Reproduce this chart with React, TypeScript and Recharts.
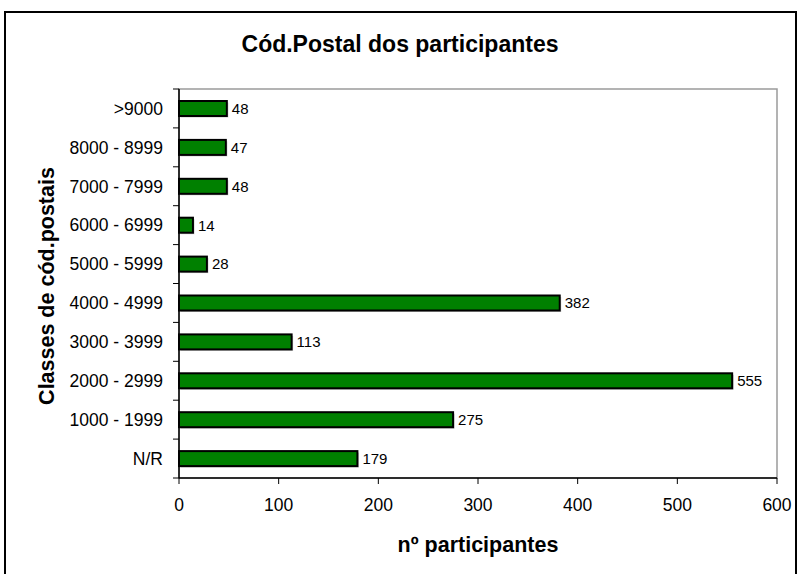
import React from 'react';
import {
  BarChart, Bar, XAxis, YAxis, LabelList, Label, ReferenceArea,
} from 'recharts';

// top-to-bottom order as in the picture
const categories = ['>9000', '8000 - 8999', '7000 - 7999', '6000 - 6999', '5000 - 5999',
  '4000 - 4999', '3000 - 3999', '2000 - 2999', '1000 - 1999', 'N/R'];
const participantes = [48, 47, 48, 14, 28, 382, 113, 555, 275, 179];
const xTicks = [0, 100, 200, 300, 400, 500, 600];

const data = categories.map((cat, i) => ({ cat, value: participantes[i] }));

const FONT = '"Liberation Sans", Arial, sans-serif';
const W = 800;
const H = 574;
const MARGIN = { top: 89, right: 23, bottom: 0, left: 0 };
const X_AXIS_H = 96;
const Y_AXIS_W = 179;
const BAND = (H - MARGIN.top - MARGIN.bottom - X_AXIS_H) / categories.length;

/** category label + tick lines on the band boundaries (Excel style) */
function CatTick(props: any) {
  const { x, y, payload, index } = props;
  return (
    <g>
      <text x={x - 16} y={y} dy="0.36em" textAnchor="end" fontSize={17.5} fontFamily={FONT} fill="#000">
        {payload.value}
      </text>
      <line x1={x - 6} x2={x} y1={y - BAND / 2} y2={y - BAND / 2} stroke="#000" />
      {index === categories.length - 1 && (
        <line x1={x - 6} x2={x} y1={y + BAND / 2} y2={y + BAND / 2} stroke="#000" />
      )}
    </g>
  );
}

/** bar with a faint grey drop shadow */
function ShadowBar(props: any) {
  const { x, y, width, height } = props;
  if (!width || width <= 0) return null;
  return (
    <g>
      <rect x={x + 1.5} y={y + 1.5} width={width} height={height} fill="#c8c8c8" />
      <rect x={x} y={y} width={width} height={height} fill="#008000" stroke="#000" strokeWidth={2} />
    </g>
  );
}

export default function App() {
  return (
    <div style={{ position: 'relative', width: W, height: H, overflow: 'hidden', background: '#fff', fontFamily: FONT }}>
      <style>{'body{margin:0}'}</style>
      <div style={{
        position: 'absolute', left: 4, top: 11, width: 793, height: 620,
        border: '2px solid #000', boxSizing: 'border-box',
      }} />
      <div style={{
        position: 'absolute', left: 0, width: W, top: 33, textAlign: 'center', lineHeight: '23px',
        fontWeight: 'bold', fontSize: 23, color: '#000',
      }}>
        Cód.Postal dos participantes
      </div>
      <div style={{ position: 'absolute', left: 0, top: 0 }}>
        <BarChart width={W} height={H} data={data} layout="vertical" margin={MARGIN}>
          <ReferenceArea x1={0} x2={600} fill="none" stroke="#9a9a9a" strokeWidth={1.5} ifOverflow="extendDomain" />
          <XAxis
            type="number"
            domain={[0, 600]}
            ticks={xTicks}
            interval={0}
            height={X_AXIS_H}
            tick={{ fontSize: 17.5, fill: '#000', fontFamily: FONT }}
            tickLine={{ stroke: '#000' }}
            tickSize={6}
            tickMargin={15}
            axisLine={{ stroke: '#000', strokeWidth: 1.5 }}
          >
            <Label
              content={() => (
                <text x={478} y={552} textAnchor="middle" fontSize={21.5} fontWeight="bold" fontFamily={FONT} fill="#000">
                  nº participantes
                </text>
              )}
            />
          </XAxis>
          <YAxis
            type="category"
            dataKey="cat"
            width={Y_AXIS_W}
            tickLine={false}
            tickSize={0}
            tickMargin={0}
            tick={<CatTick />}
            interval={0}
            axisLine={{ stroke: '#000', strokeWidth: 1.5 }}
          >
            <Label
              content={() => (
                <text
                  x={46} y={286} dy="0.36em" textAnchor="middle" fontSize={21.5} fontWeight="bold" fontFamily={FONT} fill="#000"
                  transform="rotate(-90 46 286)"
                >
                  Classes de cód.postais
                </text>
              )}
            />
          </YAxis>
          <Bar dataKey="value" barSize={15} shape={<ShadowBar />} isAnimationActive={false}>
            <LabelList dataKey="value" position="right" offset={5} fontSize={15} fill="#000" fontFamily={FONT} />
          </Bar>
        </BarChart>
      </div>
    </div>
  );
}
